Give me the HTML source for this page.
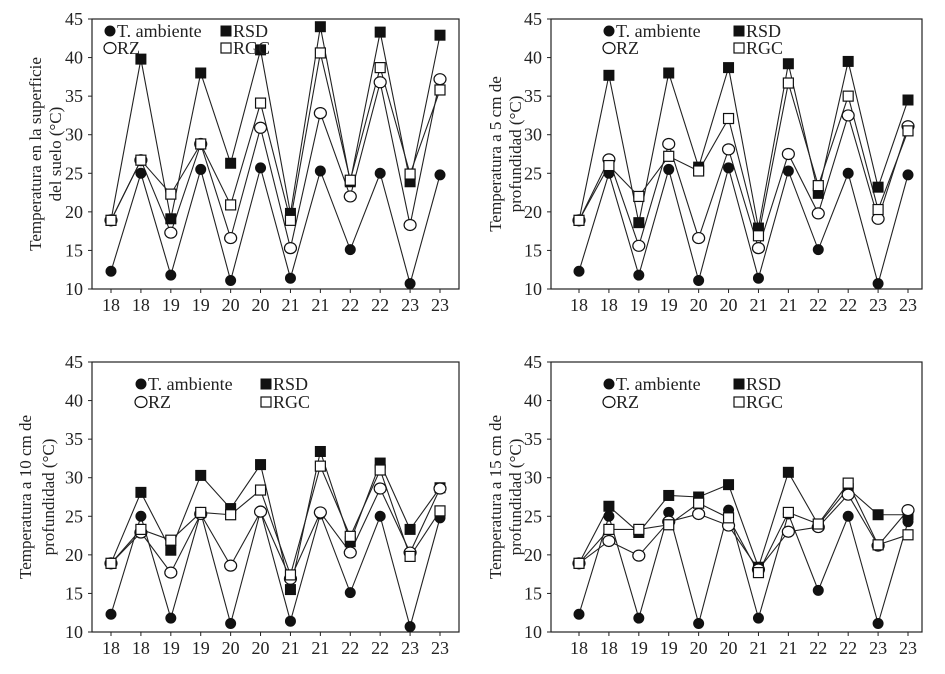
<!DOCTYPE html>
<html><head><meta charset="utf-8"><style>
html,body{margin:0;padding:0;background:#fff;}
svg{display:block;font-family:"Liberation Serif",serif;}
</style></head><body>
<svg id="chart" width="945" height="674" viewBox="0 0 945 674" xmlns="http://www.w3.org/2000/svg"></svg>
<script>
const categories = ["18","18","19","19","20","20","21","21","22","22","23","23"];
const yTicks = [10,15,20,25,30,35,40,45];
const p1T   = [12.3,25,11.8,25.5,11.1,25.7,11.4,25.3,15.1,25,10.7,24.8];
const p1RSD = [18.9,39.8,19.1,38,26.3,41,19.8,44,23.9,43.3,23.9,42.9];
const p1RZ  = [18.9,26.7,17.3,28.8,16.6,30.9,15.3,32.8,22,36.8,18.3,37.2];
const p1RGC = [18.9,26.7,22.3,28.8,20.9,34.1,18.9,40.6,24.1,38.7,24.9,35.8];
const p2T   = [12.3,25,11.8,25.5,11.1,25.7,11.4,25.3,15.1,25,10.7,24.8];
const p2RSD = [18.9,37.7,18.6,38,25.8,38.7,17.9,39.2,22.4,39.5,23.2,34.5];
const p2RZ  = [18.9,26.8,15.6,28.8,16.6,28.1,15.3,27.5,19.8,32.5,19.1,31.1];
const p2RGC = [18.9,26,22,27.2,25.3,32.1,16.9,36.7,23.4,35,20.3,30.5];
const p3T   = [12.3,25,11.8,25.5,11.1,25.7,11.4,25.3,15.1,25,10.7,24.8];
const p3RSD = [18.9,28.1,20.6,30.3,26,31.7,15.5,33.4,21.7,31.9,23.3,28.7];
const p3RZ  = [18.9,22.9,17.7,25.3,18.6,25.6,16.9,25.5,20.3,28.6,20.3,28.6];
const p3RGC = [18.9,23.3,21.9,25.5,25.2,28.4,17.4,31.5,22.4,31,19.8,25.7];
const p4T   = [12.3,25,11.8,25.5,11.1,25.8,11.8,25.3,15.4,25,11.1,24.3];
const p4RSD = [18.9,26.3,22.9,27.7,27.5,29.1,18.4,30.7,23.9,28.6,25.2,25.2];
const p4RZ  = [18.9,21.8,19.9,24.3,25.3,23.8,18.1,23.0,23.6,27.8,21.2,25.8];
const p4RGC = [18.9,23.3,23.3,23.9,26.7,24.8,17.7,25.5,24.0,29.3,21.3,22.6];
const titles = [["Temperatura en la superficie","del suelo (°C)"],["Temperatura a 5 cm de","profundidad (°C)"],["Temperatura a 10 cm de","profundidad (°C)"],["Temperatura a 15 cm de","profundidad (°C)"]];

const NS="http://www.w3.org/2000/svg";
const svg=document.getElementById('chart');
function mk(tag,attrs,parent){const e=document.createElementNS(NS,tag);for(const k in attrs)e.setAttribute(k,attrs[k]);(parent||svg).appendChild(e);return e;}

const panels=[
 {L:92,R:459,T:19,B:289,x0:111,x1:440,data:[p1T,p1RSD,p1RZ,p1RGC],legX:[110,226],legY:[31,48],tx:[37,57]},
 {L:551,R:922,T:19,B:289,x0:579,x1:908,data:[p2T,p2RSD,p2RZ,p2RGC],legX:[609,739],legY:[31,48],tx:[497,517]},
 {L:92,R:459,T:362,B:632,x0:111,x1:440,data:[p3T,p3RSD,p3RZ,p3RGC],legX:[141,266],legY:[384,402],tx:[27,50]},
 {L:551,R:922,T:362,B:632,x0:579,x1:908,data:[p4T,p4RSD,p4RZ,p4RGC],legX:[609,739],legY:[384,402],tx:[497,517]}
];
const names=['t-ambiente','rsd','rz','rgc'];
const labels=['T. ambiente','RSD','RZ','RGC'];

function marker(g,kind,x,y){
  let e;
  if(kind===0) e=mk('circle',{cx:x,cy:y,r:5,fill:'#111',stroke:'#111'},g);
  else if(kind===1) e=mk('rect',{x:x-5,y:y-5,width:10,height:10,fill:'#111',stroke:'#111'},g);
  else if(kind===2) e=mk('ellipse',{cx:x,cy:y,rx:6,ry:5.5,fill:'#fff',stroke:'#111','stroke-width':1.2},g);
  else e=mk('rect',{x:x-5,y:y-5,width:10,height:10,fill:'#fff',stroke:'#111','stroke-width':1.2},g);
  return e;
}

panels.forEach((p,pi)=>{
  const g=mk('g',{});
  
  
  const ys=v=>p.B-(v-10)/35*(p.B-p.T);
  const xs=i=>p.x0+i*(p.x1-p.x0)/(categories.length-1);
  const box=mk('rect',{x:p.L,y:p.T,width:p.R-p.L,height:p.B-p.T,fill:'none',stroke:'#222','stroke-width':1.2},g);
  
  
  yTicks.forEach(t=>{
    const y=ys(t);
    const tk=mk('line',{x1:p.L-4,x2:p.L,y1:y,y2:y,stroke:'#222'},g);
    
    
    const tl=mk('text',{x:p.L-9,y:y+6,'text-anchor':'end','font-size':18,fill:'#222'},g);
    tl.textContent=t;
    
    
  });
  categories.forEach((c,i)=>{
    const x=xs(i);
    const tk=mk('line',{x1:x,x2:x,y1:p.B,y2:p.B+4,stroke:'#222'},g);
    
    
    const tl=mk('text',{x:x,y:p.B+22,'text-anchor':'middle','font-size':18,fill:'#222'},g);
    tl.textContent=c;
    
    
  });
  const cy=(p.T+p.B)/2;
  titles[pi].forEach((line,li)=>{
    const tt=mk('text',{x:p.tx[li],y:cy,'text-anchor':'middle','font-size':17,fill:'#222',transform:`rotate(-90 ${p.tx[li]} ${cy})`,'dominant-baseline':'middle'},g);
    tt.textContent=line;
    
    
  });
  p.data.forEach((arr,si)=>{
    const sg=mk('g',{},g);
    
    
    const pts=arr.map((v,i)=>xs(i)+','+ys(v)).join(' ');
    const pl=mk('polyline',{points:pts,fill:'none',stroke:'#222','stroke-width':1.1},sg);
    
    
  });
  p.data.forEach((arr,si)=>{
    arr.forEach((v,i)=>{
      const m=marker(g,si,xs(i),ys(v));
      
      
    });
  });
  // legend
  const lg=mk('g',{},g);
  
  
  [[0,0,0],[1,1,0],[2,0,1],[3,1,1]].forEach(([si,col,row])=>{
    const x=p.legX[col], y=p.legY[row];
    const m=marker(lg,si,x,y);
    
    
    const t=mk('text',{x:x+7,y:y+6,'font-size':18,fill:'#222'},lg);
    t.textContent=labels[si];
    
    
  });
});
</script>
</body></html>
